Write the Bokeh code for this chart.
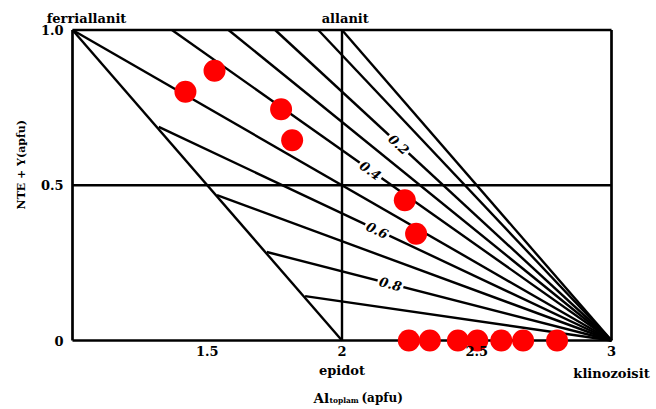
import math
from bokeh.plotting import figure
from bokeh.models import Label, FixedTicker
from bokeh.embed import file_html
from bokeh.resources import INLINE

# ---------------- data ----------------
# common end point of the fan of iso-lines (klinozoisit corner)
apex_x = 3.0
apex_y = 0.0
# other end points of the fan lines (top edge, ferriallanit corner, ferriallanit-epidot edge)
fan_end_x = [2.0, 1.912, 1.752, 1.579, 1.369, 1.0, 1.320, 1.536, 1.721, 1.863]
fan_end_y = [1.0, 1.0, 1.0, 1.0, 1.0, 1.0, 0.688, 0.468, 0.285, 0.143]

# labelled fan lines
fan_labels = ["0.2", "0.4", "0.6", "0.8"]
fan_label_line = [2, 4, 6, 8]          # index into fan_end_*
fan_label_x = [2.211, 2.106, 2.131, 2.180]

# frame box and guide lines
box_x0 = [1.0, 1.0, 1.0, 3.0]
box_y0 = [0.0, 1.0, 0.0, 0.0]
box_x1 = [3.0, 3.0, 1.0, 3.0]
box_y1 = [0.0, 1.0, 1.0, 1.0]
guide_x0 = [2.0, 1.0, 1.0]
guide_y0 = [0.0, 0.5, 1.0]
guide_x1 = [2.0, 3.0, 2.0]
guide_y1 = [1.0, 0.5, 0.0]

# end members
member_names = ["ferriallanit", "allanit", "epidot", "klinozoisit"]
member_x = [1.052, 2.012, 2.0, 3.0]
member_y = [1.038, 1.038, -0.097, -0.107]

# samples
sample_x = [1.419, 1.527, 1.774, 1.815, 2.233, 2.275,
            2.248, 2.326, 2.430, 2.502, 2.591, 2.672, 2.798]
sample_y = [0.801, 0.869, 0.745, 0.645, 0.452, 0.344,
            0.0, 0.0, 0.0, 0.0, 0.0, 0.0, 0.0]

x_ticks = [1.5, 2.0, 2.5, 3.0]
x_tick_labels = ["1.5", "2", "2.5", "3"]
y_ticks = [0.0, 0.5, 1.0]
y_tick_labels = ["0", "0.5", "1.0"]

# ---------------- layout ----------------
W, H = 656, 409
PX_PER_X = 269.5
PX_PER_Y = 310.5
LEFT_PX = 72.0     # canvas x of data x = 1
BOTTOM_PX = 340.0  # canvas y of data y = 0
x_range = (1.0 - LEFT_PX / PX_PER_X, 1.0 + (W - LEFT_PX) / PX_PER_X)
y_range = (-(H - BOTTOM_PX) / PX_PER_Y, BOTTOM_PX / PX_PER_Y)

p = figure(width=W, height=H, x_range=x_range, y_range=y_range,
           output_backend="svg", toolbar_location=None,
           min_border_left=0, min_border_right=0,
           min_border_top=0, min_border_bottom=0)
p.outline_line_color = None
p.grid.visible = False
p.background_fill_color = "white"
p.border_fill_color = "white"

FONT = "DejaVu Serif"

for ax in (p.xaxis, p.yaxis):
    ax.axis_line_color = None
    ax.major_tick_line_color = None
    ax.minor_tick_line_color = None
    ax.major_tick_in = 0
    ax.major_tick_out = 0
    ax.minor_tick_in = 0
    ax.minor_tick_out = 0
    ax.major_label_text_font = FONT
    ax.major_label_text_font_style = "bold"
    ax.major_label_text_font_size = "13px"
    ax.major_label_text_color = "black"

p.xaxis.ticker = FixedTicker(ticks=x_ticks)
p.xaxis.major_label_overrides = dict(zip(x_ticks, x_tick_labels))
p.xaxis.fixed_location = 0.0
p.xaxis.major_label_standoff = 5
p.yaxis.ticker = FixedTicker(ticks=y_ticks)
p.yaxis.major_label_overrides = dict(zip(y_ticks, y_tick_labels))
p.yaxis.fixed_location = 1.0
p.yaxis.major_label_standoff = 9

# lines
p.segment(box_x0, box_y0, box_x1, box_y1, line_color="black", line_width=2.7)
p.segment(guide_x0, guide_y0, guide_x1, guide_y1, line_color="black", line_width=2.4)
p.segment([apex_x] * len(fan_end_x), [apex_y] * len(fan_end_x), fan_end_x, fan_end_y,
          line_color="black", line_width=2.4)

# samples
p.scatter(sample_x, sample_y, size=22, fill_color="#ff0000", line_color=None)

# fan labels
ratio = PX_PER_Y / PX_PER_X
for lab, idx, lx in zip(fan_labels, fan_label_line, fan_label_x):
    ex, ey = fan_end_x[idx], fan_end_y[idx]
    slope = (ey - apex_y) / (ex - apex_x)
    ly = apex_y + slope * (lx - apex_x)
    p.add_layout(Label(x=lx, y=ly, text=lab, angle=math.atan(slope * ratio),
                       text_align="center", text_baseline="middle",
                       text_font=FONT, text_font_style="bold italic",
                       text_font_size="13px", text_color="black",
                       background_fill_color="white", padding=2))

def lbl(x, y, text, size="13px", align="center", baseline="alphabetic", angle=0.0, x_offset=0):
    p.add_layout(Label(x=x, y=y, text=text, text_align=align, text_baseline=baseline,
                       angle=angle, x_offset=x_offset,
                       text_font=FONT, text_font_style="bold",
                       text_font_size=size, text_color="black"))

for name, mx, my in zip(member_names, member_x, member_y):
    lbl(mx, my, name)

lbl(0.811, 0.566, "NTE + Y(apfu)", size="11px", baseline="middle", angle=math.pi / 2)
lbl(1.894, -0.184, "Al", size="13.5px", align="left")
lbl(1.894, -0.194, "toplam", size="7.5px", align="left", x_offset=16)
lbl(1.894, -0.184, "(apfu)", size="12px", align="left", x_offset=48)

open("out.html", "w").write(file_html(p, INLINE))
